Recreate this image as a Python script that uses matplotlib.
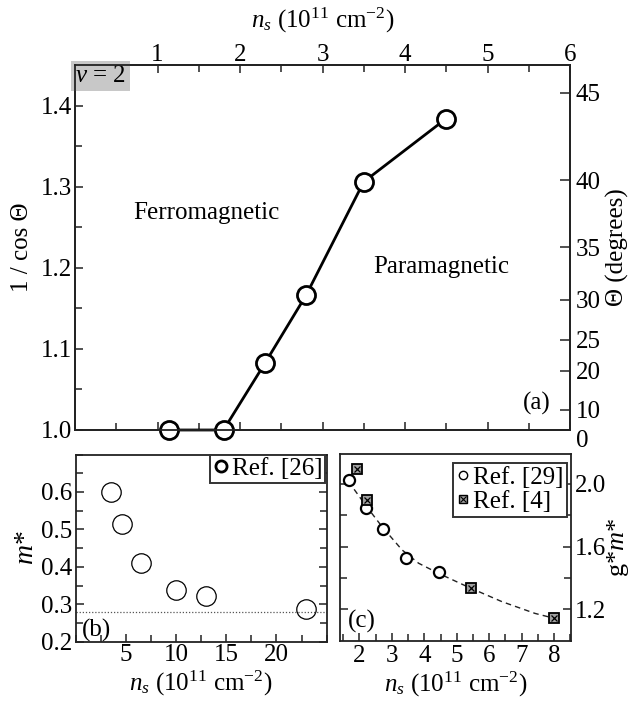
import numpy as np
import matplotlib
matplotlib.use("Agg")
import matplotlib.pyplot as plt
from matplotlib.ticker import MultipleLocator, FixedLocator, FormatStrFormatter
from matplotlib.lines import Line2D

plt.rcParams['font.family'] = ['Liberation Serif', 'DejaVu Serif']
plt.rcParams['mathtext.fontset'] = 'custom'
plt.rcParams['mathtext.rm'] = 'Liberation Serif'
plt.rcParams['mathtext.it'] = 'Liberation Serif:italic'
plt.rcParams['font.size'] = 18
plt.rcParams['axes.linewidth'] = 1.3
plt.rcParams['axes.edgecolor'] = '#222222'

# ---------------- data ----------------
# (a) critical tilt for nu = 2
ns_a = [1.14, 1.8, 2.3, 2.8, 3.5, 4.5]
inv_cos_a = [1.0, 1.0, 1.082, 1.166, 1.306, 1.384]
# right-hand Theta scale: labels and the 1/cos value each one sits at
theta_labels = ['0', '10', '20', '25', '30', '35', '40', '45']
theta_tick_pos = [1.0, 1.0247, 1.0728, 1.111, 1.1605, 1.2256, 1.3078, 1.4157]

# (b) effective mass, Ref. [26]
ns_b = [3.5, 4.6, 6.5, 10.0, 13.0, 22.9]
m_b = [0.600, 0.515, 0.411, 0.339, 0.322, 0.287]
m_band = 0.28

# (c) g*m*, Ref. [29] (circles) and Ref. [4] (squares)
ns_c29 = [1.68, 2.2, 2.71, 3.42, 4.45]
gm_c29 = [2.026, 1.845, 1.715, 1.526, 1.44]
ns_c4 = [1.92, 2.22, 5.45, 8.0]
gm_c4 = [2.096, 1.898, 1.338, 1.146]
# dashed guide
ns_fit = [1.66, 2.18, 2.69, 3.31, 3.82, 4.43, 5.36, 6.39, 7.41, 8.13]
gm_fit = [2.015, 1.866, 1.728, 1.579, 1.494, 1.43, 1.341, 1.249, 1.174, 1.136]

W, H = 633, 702
fig = plt.figure(figsize=(W / 100, H / 100), dpi=100)

def box(l, r, t, b):
    return [l / W, 1 - b / H, (r - l) / W, (b - t) / H]

xlabel_txt = r"$n_s$ (10$^{11}$ cm$^{-2}$)"

# ---------------- panel (a) ----------------
ax = fig.add_axes(box(75, 570, 65, 430))
ax.plot(ns_a, inv_cos_a, '-', color='black', lw=2.0, marker='o', ms=13,
        mfc='white', mec='black', mew=2.0, clip_on=False, zorder=5)
ax.set_xlim(0, 6)
ax.set_ylim(1.0, 1.45)
ax.xaxis.set_major_locator(FixedLocator([1, 2, 3, 4, 5, 6]))
ax.xaxis.set_minor_locator(MultipleLocator(0.5))
ax.yaxis.set_major_locator(FixedLocator([1.0, 1.1, 1.2, 1.3, 1.4]))
ax.yaxis.set_minor_locator(MultipleLocator(0.05))
ax.yaxis.set_major_formatter(FormatStrFormatter('%.1f'))
ax.tick_params(which='both', direction='in', top=True, bottom=True,
               labeltop=True, labelbottom=False, left=True, right=False,
               labelsize=18, pad=2, color='#222222')
ax.tick_params(axis='x', pad=-1)
ax.tick_params(which='major', length=6, width=1.1)
ax.tick_params(which='minor', length=5, width=1.1)
ax.xaxis.set_label_position('top')
ax.set_xlabel(xlabel_txt, fontsize=18, labelpad=12)
ax.set_ylabel("1 / cos Θ", fontsize=18, labelpad=6)

ax2 = ax.twinx()
ax2.set_ylim(ax.get_ylim())
ax2.yaxis.set_major_locator(FixedLocator(theta_tick_pos))
ax2.set_yticklabels(theta_labels)
ax2.yaxis.set_minor_locator(FixedLocator([]))
ax2.tick_params(direction='in', length=7, width=1.1, labelsize=18, pad=4,
                color='#222222')
ax2.get_yticklabels()[0].set_va('top')
ax2.set_ylabel("Θ (degrees)", fontsize=18, labelpad=4)

ax.text(0.0, 1.0, r"$v$ = 2", transform=ax.transAxes, ha='left', va='top',
        fontsize=18, bbox=dict(boxstyle='square,pad=0.15', fc='#c8c8c8',
                                ec='none'), zorder=6)
ax.text(0.70, 1.268, "Ferromagnetic", ha='left', va='center', fontsize=18)
ax.text(3.61, 1.201, "Paramagnetic", ha='left', va='center', fontsize=18)
ax.text(0.933, 0.074, "(a)", transform=ax.transAxes, ha='center',
        va='center', fontsize=18)

# ---------------- panel (b) ----------------
axb = fig.add_axes(box(75.5, 326.7, 454.5, 641.7))
axb.plot(ns_b, m_b, 'o', ms=14, mfc='white', mec='black', mew=0.9,
         linestyle='none')
axb.axhline(m_band, color='#555555', lw=0.9, ls=(0, (1, 1.5)))
axb.set_xlim(0, 25)
axb.set_ylim(0.2, 0.7)
axb.xaxis.set_major_locator(FixedLocator([5, 10, 15, 20]))
axb.xaxis.set_minor_locator(MultipleLocator(2.5))
axb.yaxis.set_major_locator(FixedLocator([0.2, 0.3, 0.4, 0.5, 0.6]))
axb.yaxis.set_minor_locator(MultipleLocator(0.05))
axb.tick_params(which='both', direction='in', top=False, right=True,
                labelsize=18, pad=2, color='#222222')
axb.tick_params(which='major', length=6, width=1.1)
axb.tick_params(which='minor', length=5, width=1.1)
axb.set_xlabel(xlabel_txt, fontsize=18, labelpad=2)
axb.set_ylabel(r"$m$*", fontsize=20, labelpad=2)
axb.text(0.082, 0.06, "(b)", transform=axb.transAxes, ha='center',
         va='center', fontsize=18)
leg_b_handle = Line2D([], [], marker='o', ms=8, mfc='white', mec='black',
                      mew=2.0, linestyle='none')
lb = axb.legend([leg_b_handle], ["Ref. [26]"], loc='upper right',
                bbox_to_anchor=(0.995, 1.0), borderaxespad=0,
                handlelength=0.6, handletextpad=0.15, borderpad=0.12,
                fontsize=18, fancybox=False, framealpha=1)
lb.get_frame().set_edgecolor('#333333')
lb.get_frame().set_linewidth(1.4)

# ---------------- panel (c) ----------------
axc = fig.add_axes(box(340, 570.7, 454, 640.7))
axc.plot(ns_fit, gm_fit, ls=(0, (4, 3)), color='#222222', lw=1.0, zorder=2)
axc.plot(ns_c29, gm_c29, 'o', ms=8, mfc='white', mec='black',
         mew=1.6, linestyle='none', zorder=3)
axc.plot(ns_c4, gm_c4, 's', ms=7, mfc='#a0a0a0', mec='black',
         mew=1.3, linestyle='none', zorder=4)
axc.plot(ns_c4, gm_c4, 'x', ms=5, mec='black', mew=0.9,
         linestyle='none', zorder=5)
axc.set_xlim(1.4, 8.51)
axc.set_ylim(1.0, 2.19)
axc.xaxis.set_major_locator(FixedLocator([2, 3, 4, 5, 6, 7, 8]))
axc.xaxis.set_minor_locator(MultipleLocator(0.5))
axc.yaxis.set_major_locator(FixedLocator([1.2, 1.6, 2.0]))
axc.yaxis.set_minor_locator(FixedLocator([1.4, 1.8]))
axc.yaxis.set_major_formatter(FormatStrFormatter('%.1f'))
axc.tick_params(which='both', direction='in', top=False, left=True,
                right=True, labelleft=False, labelright=True,
                labelsize=18, pad=3, color='#222222')
axc.tick_params(which='major', length=6, width=1.1)
axc.tick_params(which='minor', length=5, width=1.1)
axc.yaxis.set_label_position('right')
axc.set_xlabel(xlabel_txt, fontsize=18, labelpad=2)
axc.set_ylabel(r"g*$m$*", fontsize=19, labelpad=-1)
axc.text(0.094, 0.105, "(c)", transform=axc.transAxes, ha='center',
         va='center', fontsize=18)
leg_c29 = Line2D([], [], marker='o', ms=6, mfc='white', mec='black',
                 mew=1.0, linestyle='none')
leg_s = Line2D([], [], marker='s', ms=6, mfc='#a0a0a0', mec='black',
               mew=1.0, linestyle='none')
leg_x = Line2D([], [], marker='x', ms=4, mec='black', mew=0.8,
               linestyle='none')
lc = axc.legend([leg_c29, (leg_s, leg_x)], ["Ref. [29]", "Ref. [4]"],
                loc='upper right', bbox_to_anchor=(0.983, 0.953),
                borderaxespad=0, handlelength=0.5, handletextpad=0.15,
                borderpad=0.15, labelspacing=0.05, fontsize=18,
                fancybox=False, framealpha=1)
lc.get_frame().set_edgecolor('#333333')
lc.get_frame().set_linewidth(1.4)

fig.savefig("out.png", dpi=100)
